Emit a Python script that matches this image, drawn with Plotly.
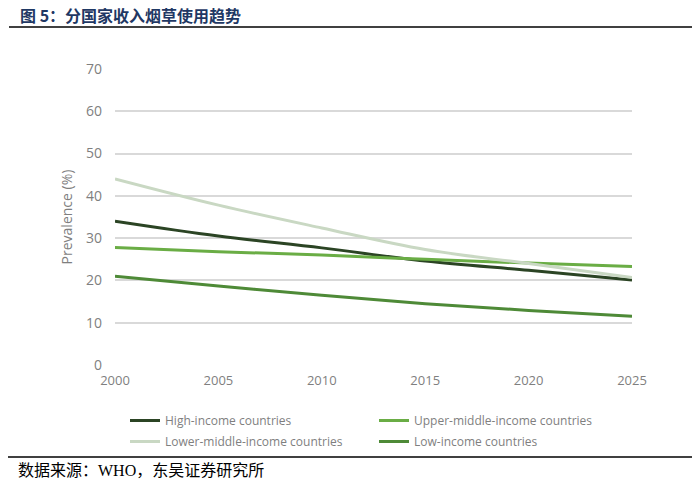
import plotly.graph_objects as go

years = [2000, 2005, 2010, 2015, 2020, 2025]
high_income = [34.0, 30.5, 27.7, 24.6, 22.4, 20.1]
upper_middle = [27.8, 26.8, 26.0, 25.0, 24.1, 23.3]
lower_middle = [44.0, 37.8, 32.4, 27.3, 24.0, 20.7]
low_income = [21.0, 18.7, 16.5, 14.5, 12.9, 11.5]

names = ["High-income countries", "Upper-middle-income countries",
         "Lower-middle-income countries", "Low-income countries"]
series = [high_income, upper_middle, lower_middle, low_income]
colors = ["#2b4424", "#6aad45", "#c9d8c3", "#4e8a37"]
legend_ids = ["legend", "legend2", "legend", "legend2"]

fig = go.Figure()
for n, s, c, lg in zip(names, series, colors, legend_ids):
    fig.add_trace(go.Scatter(x=years, y=s, name=n, mode="lines", legend=lg,
                             legendgroup=n,
                             line=dict(color=c, width=3, shape="spline")))

# page body adds an 8px offset; positions below are in reference pixels
OFF = 8
W, H = 700 - OFF, 489 - OFF
L, R, T, B = 115 - OFF, 68, 69 - OFF, 124
pw, ph = W - L - R, H - T - B

def px(x):
    return (x - OFF - L) / pw

def py(y):
    return (H - B - (y - OFF)) / ph

leg_common = dict(orientation="v", yanchor="top", xanchor="left",
                  font=dict(size=12, color="#7f7f7f"), bgcolor="rgba(0,0,0,0)",
                  tracegroupgap=2)

fig.update_layout(
    width=W, height=H,
    margin=dict(l=L, r=R, t=T, b=B),
    paper_bgcolor="white", plot_bgcolor="white",
    font=dict(family="Open Sans, Liberation Sans, sans-serif", color="#7f7f7f", size=13),
    showlegend=True,
    legend=dict(x=px(125), y=py(406), **leg_common),
    legend2=dict(x=px(374), y=py(406), **leg_common),
    xaxis=dict(range=[2000, 2025], tickvals=[2000, 2005, 2010, 2015, 2020, 2025],
               showgrid=False, zeroline=False, showline=False, ticks="",
               ticklabelstandoff=6,
               tickfont=dict(size=13, color="#7f7f7f")),
    yaxis=dict(range=[0, 70], dtick=10, showgrid=True, gridcolor="#d9d9d9", gridwidth=1.5,
               zeroline=False, showline=False, ticks="", ticklabelstandoff=12,
               tickfont=dict(size=14, color="#7f7f7f"),
               title=dict(text="Prevalence (%)", font=dict(size=14, color="#7f7f7f"), standoff=10)),
)

fig.add_annotation(text="<b>图 5：分国家收入烟草使用趋势</b>", xref="paper", yref="paper",
                   x=px(18), y=py(15), xanchor="left", yanchor="middle", showarrow=False,
                   font=dict(family="Noto Sans CJK SC", size=16, color="#1f3864"))
fig.add_shape(type="line", xref="paper", yref="paper", x0=px(9), x1=px(700),
              y0=py(27), y1=py(27), line=dict(color="black", width=1.5))
fig.add_shape(type="line", xref="paper", yref="paper", x0=px(8), x1=px(700),
              y0=py(457), y1=py(457), line=dict(color="black", width=1.5))
fig.add_annotation(text="数据来源：WHO，东吴证券研究所", xref="paper", yref="paper",
                   x=px(16), y=py(470), xanchor="left", yanchor="middle", showarrow=False,
                   font=dict(family="Liberation Serif, Noto Sans CJK SC", size=16, color="black"))

fig.write_html("out.html")
